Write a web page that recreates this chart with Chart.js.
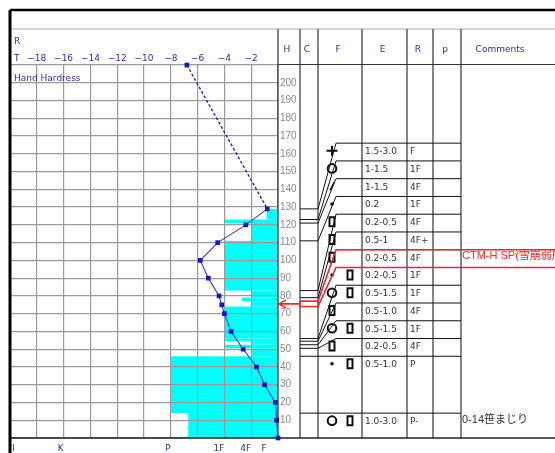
<!DOCTYPE html>
<html>
<head>
<meta charset="utf-8">
<script src="https://cdn.jsdelivr.net/npm/chart.js@4.4.1/dist/chart.umd.min.js"></script>
<style>
  html, body { margin: 0; padding: 0; background: #fff; }
  canvas { display: block; }
</style>
</head>
<body>
<canvas id="perfil" width="555" height="453"></canvas>
<script>
let chart;

// Temperature profile: height (cm) and temperature (°C). First point is the air temperature
const tempHeights = [210, 129, 120, 110, 100, 90, 80, 75, 70, 60, 50, 40, 30, 20, 10, 0];
const tempValues = [-6.8, -0.8, -2.4, -4.5, -5.8, -5.2, -4.4, -4.2, -4.0, -3.5, -2.6, -1.6, -1.0, -0.2, -0.1, 0.0];

// Header ticks (temperature) and height labels
const tempTicks = [-18, -16, -14, -12, -10, -8, -6, -4, -2];
const heightTicks = [200, 190, 180, 170, 160, 150, 140, 130, 120, 110, 100, 90, 80, 70, 60, 50, 40, 30, 20, 10];

// Hand hardness scale (bar length, in units of the temperature axis)
const hardnessLabels = ['I', 'K', 'P', '1F', '4F', 'F'];
const hardnessValues = { 'I': 20, 'K': 16, 'P': 8, 'P-': 6.7, '1F': 4, '4F+': 2.7, '4F': 2, 'F': 0.85 };

// Layers from the ground up
const layerTops = [14, 46, 50.5, 52.5, 54.5, 56, 74, 77, 79, 83, 111, 121, 123, 129];
const layerHardness = ['P-', 'P', '4F', '1F', '4F', '1F', '1F', '4F', '4F+', '4F', '1F', '4F', '1F', 'F'];
const layerSizes = ['1.0-3.0', '0.5-1.0', '0.2-0.5', '0.5-1.5', '0.5-1.0', '0.5-1.5', '0.2-0.5', '0.2-0.5', '0.5-1', '0.2-0.5', '0.2', '1-1.5', '1-1.5', '1.5-3.0'];
const layerGrains = [['MF', 'FC'], ['RG', 'FC'], ['FC'], ['MF', 'FC'], ['FC'], ['MF', 'FC'], ['RG', 'FC'], ['FC'], ['FC'], ['FC'], ['RG'], ['DF'], ['MF'], ['PP']];
const layerComments = ['0-14笹まじり', '', '', '', '', '', '', 'CTM-H SP(雪崩弱層)', '', '', '', '', '', ''];
const weakLayer = 7;

const columnTitles = ['H', 'C', 'F', 'E', 'R', 'p', 'Comments'];

// Layout (pixels)
const colWidths = [22, 18, 44, 45, 26, 28, 82];
const minRowCm = 10;
const BLUE_TEXT = '#2e2e9e';
const FONT = "'DejaVu Sans', sans-serif";

function line(ctx, x1, y1, x2, y2, color, width) {
    ctx.beginPath();
    ctx.strokeStyle = color;
    ctx.lineWidth = width;
    ctx.moveTo(x1, y1);
    ctx.lineTo(x2, y2);
    ctx.stroke();
}

function columnEdges(area) {
    const xs = [area.right];
    colWidths.forEach(w => xs.push(xs[xs.length - 1] + w));
    return xs;
}

// Table rows: each layer gets at least minRowCm of room, stacked from the ground
function layoutRows() {
    const rows = [];
    let prevTop = 0;
    let bottom = 0;
    layerTops.forEach(top => {
        const rb = Math.max(bottom, prevTop);
        const rt = Math.max(top, rb + minRowCm);
        rows.push({ bottom: rb, top: rt });
        prevTop = rt;
        bottom = top;
    });
    return rows;
}

// Grain shape symbols
function drawGrain(ctx, kind, cx, cy) {
    ctx.strokeStyle = '#111';
    ctx.fillStyle = '#111';
    ctx.lineWidth = 2;
    ctx.beginPath();
    if (kind === 'PP') {
        ctx.moveTo(cx - 5.5, cy); ctx.lineTo(cx + 5.5, cy);
        ctx.moveTo(cx, cy - 5); ctx.lineTo(cx, cy + 5);
        ctx.stroke();
    } else if (kind === 'MF') {
        ctx.arc(cx, cy, 4.3, 0, Math.PI * 2);
        ctx.stroke();
    } else if (kind === 'RG') {
        ctx.arc(cx, cy, 1.8, 0, Math.PI * 2);
        ctx.fill();
    } else if (kind === 'FC') {
        ctx.rect(cx - 2.5, cy - 4.5, 5, 9);
        ctx.stroke();
    } else if (kind === 'DF') {
        ctx.lineWidth = 1.3;
        ctx.moveTo(cx - 2, cy + 4); ctx.lineTo(cx + 2, cy - 4);
        ctx.stroke();
    }
}

const perfilPlugin = {
    id: 'perfil',
    beforeDraw(chart) {
        const { ctx, scales: { x, y } } = chart;
        ctx.save();
        ctx.fillStyle = '#fff';
        ctx.fillRect(0, 0, chart.width, chart.height);
        // hardness bars
        ctx.fillStyle = '#00ffff';
        let bottom = 0;
        layerTops.forEach((top, i) => {
            const left = x.getPixelForValue(-hardnessValues[layerHardness[i]]);
            const yt = y.getPixelForValue(top);
            const yb = y.getPixelForValue(bottom);
            ctx.fillRect(left, yt, x.getPixelForValue(0) - left, yb - yt);
            bottom = top;
        });
        ctx.restore();
    },
    beforeDatasetsDraw(chart) {
        const { ctx, chartArea: a, scales: { y } } = chart;
        const W = chart.width;
        const cols = columnEdges(a).slice(0, 7);
        ctx.save();
        line(ctx, a.left, 29, W, 29, '#a8a8a8', 1);
        line(ctx, a.right, a.top - 0.5, W, a.top - 0.5, '#333', 1.2);
        cols.forEach(cx => line(ctx, cx, 29, cx, a.bottom, '#333', 1.2));
        line(ctx, a.left, a.bottom, W, a.bottom, '#222', 1.5);
        line(ctx, a.left, 10, W, 10, '#000', 2.5);
        line(ctx, a.left, 10, a.left, chart.height, '#000', 3);

        // layer boundaries and their rows in the table
        const rows = layoutRows();
        const cIn = cols[1], cOut = cols[2], fIn = cols[2] + 18, pEnd = cols[6];
        ctx.strokeStyle = '#111';
        ctx.lineWidth = 1;
        layerTops.forEach((top, i) => {
            const ya = y.getPixelForValue(top);
            const yd = y.getPixelForValue(rows[i].top);
            ctx.beginPath();
            if (Math.abs(ya - yd) < 0.5) {
                ctx.moveTo(cIn, ya);
                ctx.lineTo(pEnd, ya);
            } else {
                ctx.moveTo(cIn, ya);
                ctx.lineTo(cOut, ya);
                ctx.lineTo(fIn, yd);
                ctx.lineTo(pEnd, yd);
            }
            ctx.stroke();
        });
        ctx.restore();
    },
    afterDraw(chart) {
        const { ctx, chartArea: a, scales: { x, y } } = chart;
        const W = chart.width;
        const cols = columnEdges(a);
        const rows = layoutRows();
        ctx.save();

        // column titles
        ctx.fillStyle = BLUE_TEXT;
        ctx.font = '9px ' + FONT;
        ctx.textAlign = 'center';
        ctx.textBaseline = 'middle';
        columnTitles.forEach((t, i) => {
            ctx.fillText(t, (cols[i] + cols[i + 1]) / 2 - 2, 50);
        });

        // temperature header
        tempTicks.forEach(t => {
            ctx.fillText('\u2212' + Math.abs(t), x.getPixelForValue(t), 59);
        });
        ctx.textAlign = 'left';
        ctx.fillText('R', a.left + 4, 42);
        ctx.fillText('T', a.left + 4, 59);
        ctx.fillText('Hand Hardress', a.left + 4, 79);

        // hardness labels under the grid
        ctx.textAlign = 'right';
        hardnessLabels.forEach(h => {
            const w = ctx.measureText(h).width;
            const px = Math.max(x.getPixelForValue(-hardnessValues[h]), a.left + 2 + w);
            ctx.fillText(h, px, a.bottom + 11);
        });

        // height labels
        ctx.textAlign = 'left';
        ctx.fillStyle = '#8a8a8a';
        ctx.font = "10px 'Liberation Sans', sans-serif";
        heightTicks.forEach(h => {
            ctx.fillText(String(h), a.right + 2, y.getPixelForValue(h));
        });

        // table rows: grain shapes, sizes, hardness, comments
        const fIn = cols[2];
        layerTops.forEach((top, i) => {
            const rowTop = y.getPixelForValue(rows[i].top);
            layerGrains[i].forEach((g, k) => drawGrain(ctx, g, fIn + 14 + k * 18, rowTop + 7.5));
            ctx.fillStyle = '#333';
            ctx.font = '9px ' + FONT;
            ctx.textAlign = 'left';
            ctx.textBaseline = 'middle';
            ctx.fillText(layerSizes[i], cols[3] + 3, rowTop + 8.5);
            ctx.fillText(layerHardness[i], cols[4] + 3, rowTop + 8.5);
            if (layerComments[i]) {
                ctx.fillStyle = i === weakLayer ? '#ff2020' : '#333';
                ctx.font = "11px 'Liberation Sans', 'Noto Sans CJK JP', sans-serif";
                ctx.fillText(layerComments[i], cols[6] + 1, rowTop + 6.5);
            }
        });

        // weak layer highlight
        const wb = layerTops[weakLayer - 1];
        const wt = layerTops[weakLayer];
        const r = rows[weakLayer];
        const cIn = cols[1], cOut = cols[2], fx = cols[2] + 18;
        ctx.strokeStyle = '#ff2424';
        ctx.lineWidth = 1.4;
        ctx.strokeRect(cIn, y.getPixelForValue(wt), cOut - cIn, y.getPixelForValue(wb) - y.getPixelForValue(wt));
        ctx.beginPath();
        ctx.moveTo(cOut, y.getPixelForValue(wt));
        ctx.lineTo(fx, y.getPixelForValue(r.top));
        ctx.lineTo(W, y.getPixelForValue(r.top));
        ctx.moveTo(cOut, y.getPixelForValue(wb));
        ctx.lineTo(fx, y.getPixelForValue(r.bottom));
        ctx.lineTo(W, y.getPixelForValue(r.bottom));
        ctx.stroke();
        // arrow pointing at the weak layer
        const ym = y.getPixelForValue((wb + wt) / 2);
        ctx.lineWidth = 1.6;
        ctx.beginPath();
        ctx.moveTo(cIn, ym);
        ctx.lineTo(a.right + 1, ym);
        ctx.moveTo(a.right + 8, ym - 4);
        ctx.lineTo(a.right + 1, ym);
        ctx.lineTo(a.right + 8, ym + 4);
        ctx.stroke();

        ctx.restore();
    }
};

const ctx = document.getElementById('perfil').getContext('2d');
chart = new Chart(ctx, {
    type: 'scatter',
    data: {
        datasets: [{
            data: tempHeights.map((h, i) => ({ x: tempValues[i], y: h })),
            showLine: true,
            borderColor: '#3c3cb0',
            borderWidth: 1.1,
            pointStyle: 'rect',
            pointRadius: 3.3,
            pointBackgroundColor: '#1414c8',
            pointBorderColor: '#1414c8',
            pointBorderWidth: 0,
            clip: false,
            segment: {
                borderColor: c => c.p0DataIndex === 0 ? '#2a2aa0' : undefined,
                borderWidth: c => c.p0DataIndex === 0 ? 1.4 : undefined,
                borderDash: c => c.p0DataIndex === 0 ? [3, 2] : undefined
            }
        }]
    },
    options: {
        responsive: false,
        animation: false,
        layout: { padding: { left: 10, top: 65, right: 277, bottom: 15 } },
        plugins: {
            legend: { display: false },
            tooltip: { enabled: false }
        },
        scales: {
            x: {
                type: 'linear',
                min: -20,
                max: 0,
                ticks: { display: false, stepSize: 2 },
                grid: { color: '#9a9a9a', lineWidth: 1.2, drawTicks: false },
                border: { display: false }
            },
            y: {
                type: 'linear',
                min: 0,
                max: 210,
                ticks: { display: false, stepSize: 10 },
                grid: { color: '#9a9a9a', lineWidth: 1.2, drawTicks: false },
                border: { display: false }
            }
        }
    },
    plugins: [perfilPlugin]
});
</script>
</body>
</html>
